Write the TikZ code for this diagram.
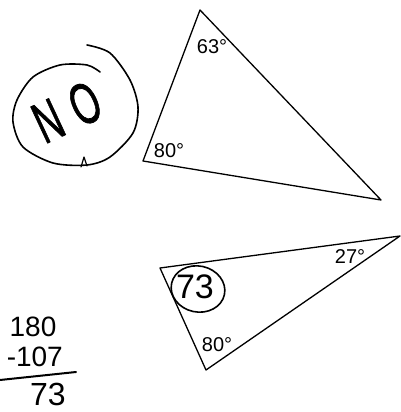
\documentclass[tikz,border=0pt]{standalone}
\usepackage{fontspec}
\setmainfont{Liberation Sans}
\newfontfamily\handfont[FakeBold=1.5]{Liberation Sans}
\begin{document}
\begin{tikzpicture}[x=1pt,y=-1pt,
  tri/.style={line width=1.3pt, line join=round},
  hand/.style={line width=1.6pt, line cap=round, line join=round},
  deg/.style={inner sep=0pt, font=\fontsize{20}{20}\selectfont},
  num/.style={inner sep=0pt, font=\fontsize{28}{28}\selectfont}]
\useasboundingbox (0,0) rectangle (401,412);
% top triangle
\coordinate (A) at (200,10);
\coordinate (B) at (143,161);
\coordinate (C) at (381,200);
\draw[tri] (A) -- (B) -- (C) -- cycle;
\node[deg] (t63) at (212,47) {63°};
\node[deg] (t80) at (169,151) {80°};
% NO circled
\draw[hand] plot[smooth] coordinates {(100,72) (87,65) (60,65) (33,77) (17,100) (13,122) (23,147) (53,163) (87,165) (110,157) (133,133) (138,107) (130,80) (110,53) (87,45)};
\draw[hand, line width=1.2pt] (81,167) -- (84,157) -- (87,166);
\node[inner sep=0pt, rotate=25, xscale=0.62, font=\handfont\fontsize{58}{58}\selectfont] (no) at (67,112) {N\kern22pt O};
% bottom triangle
\coordinate (D) at (160,268);
\coordinate (E) at (400,236);
\coordinate (F) at (206,370);
\draw[tri] (D) -- (E) -- (F) -- cycle;
\node[deg] (b27) at (350,257) {27°};
\node[deg] (b80) at (217,345) {80°};
\node[inner sep=0pt, font=\fontsize{34}{34}\selectfont] (b73) at (195,287) {73};
\draw[hand, rotate around={-12:(198,289)}] (198,289) ellipse [x radius=27, y radius=23];
% subtraction
\node[num] (s180) at (33,327) {180};
\node[num, anchor=east] (s107) at (63,357) {-107};
\coordinate (L1) at (0,380);
\coordinate (L2) at (76,372);
\draw[hand, line width=2pt] (L1) -- (L2);
\node[inner sep=0pt, font=\fontsize{32}{32}\selectfont] (s73) at (48,394) {73};
\end{tikzpicture}
\end{document}
